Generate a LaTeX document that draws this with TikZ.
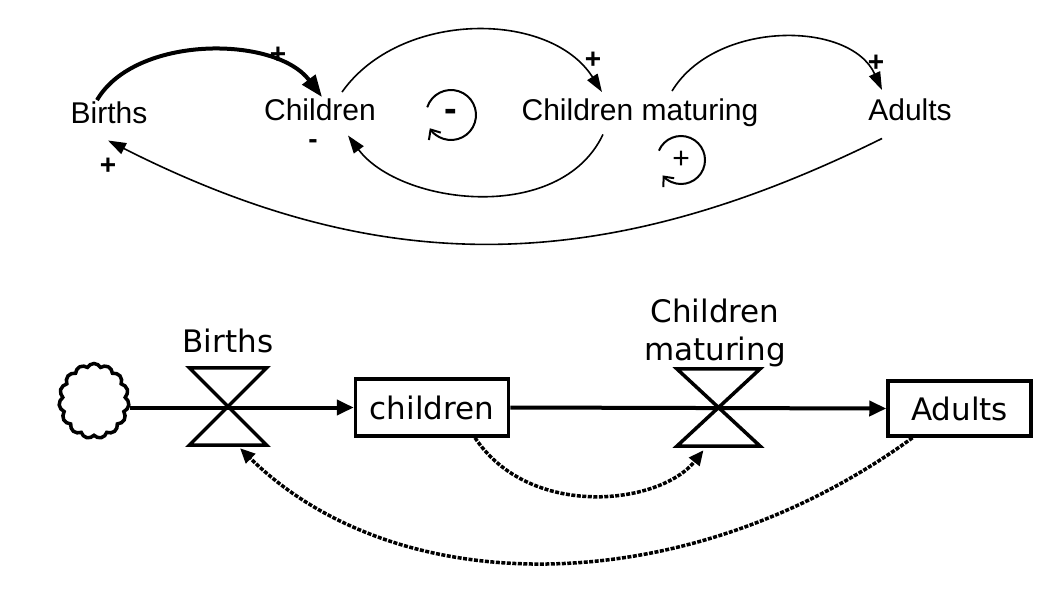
\documentclass[tikz,border=0pt]{standalone}
\usepackage{fontspec}
\setmainfont{Liberation Sans}
\newfontfamily\dejavu{DejaVu Sans}
\usetikzlibrary{arrows.meta,shapes.symbols}
\begin{document}
\begin{tikzpicture}[x=1pt,y=-1pt,
  cld/.style={font=\fontsize{30}{36}\selectfont, inner sep=1pt, anchor=base},
  sgn/.style={font=\bfseries\fontsize{28}{32}\selectfont, inner sep=0pt},
  link/.style={line width=1.6pt, -{Triangle[length=18pt,width=12pt]}},
  loopar/.style={line width=2pt, -{Straight Barb[length=8pt,width=14pt]}},
  stock/.style={draw, line width=3.5pt, font=\dejavu\fontsize{31}{38}\selectfont, inner sep=0pt},
  valve/.style={inner sep=0pt},
  valvedraw/.style={line width=3.5pt, line join=miter},
  slabel/.style={font=\dejavu\fontsize{31}{38}\selectfont, inner sep=0pt},
  flow/.style={line width=4pt, -{Triangle[length=17pt,width=15pt]}},
  info/.style={line width=3.5pt, dash pattern=on 4pt off 1.5pt, -{Triangle[length=15pt,width=13pt]}}
]
\fill[white] (0,0) rectangle (1056,597);
\useasboundingbox (0,0) rectangle (1056,597);

% ---- causal loop diagram ----
\node[cld] (tb) at (109,123) {Births};
\node[cld] (tc) at (320,120) {Children};
\node[cld] (tm) at (640,120) {Children maturing};
\node[cld] (ta) at (910,120) {Adults};

\draw[link, line width=4pt, -{Triangle[length=22pt,width=16pt]}] ([xshift=-12]tb.north) .. controls (135,35) and (275,35) .. ([xshift=2]tc.north);
\draw[link] ([shift={(22,-5)}]tc.north) .. controls (400,10) and (550,10) .. ([shift={(-38,-5)}]tm.north);
\draw[link] ([shift={(32,-6)}]tm.north) .. controls (715,20) and (850,20) .. ([shift={(-28,-7)}]ta.north);
\draw[link] ([shift={(-37,7)}]tm.south) .. controls (560,225) and (400,205) .. ([shift={(28,14)}]tc.south);
\draw[link] ([shift={(-28,17)}]ta.south) .. controls (600,278) and (380,278) .. ([shift={(-1,16)}]tb.south);

\node[sgn] (s1) at (278,55) {+};
\node[sgn] (s2) at (593,60) {+};
\node[sgn] (s3) at (876,63) {+};
\node[sgn] (s4) at (313,144) {-};
\node[sgn] (s5) at (108,166) {+};

\node[font=\bfseries\fontsize{38}{40}\selectfont, inner sep=0pt] (l1) at (451,115) {-};
\draw[loopar] ([shift={(-162:25)}]l1.center) arc[start angle=-162, end angle=148, radius=25];
\node[font=\fontsize{30}{32}\selectfont, inner sep=0pt] (l2) at (681,160) {+};
\draw[loopar] ([shift={(-157:24)}]l2.center) arc[start angle=-157, end angle=140, radius=24];

% ---- stock and flow diagram ----
\node[draw, cloud, cloud puffs=15, cloud puff arc=125, aspect=1, minimum width=70pt, minimum height=75pt, line width=3.5pt] (src) at (94,401) {};
\node[valve, minimum width=77pt, minimum height=77pt] (v1) at (228,406.5) {};
\draw[valvedraw] (v1.north west) -- (v1.north east) -- (v1.south west) -- (v1.south east) -- cycle;
\node[stock, minimum width=153pt, minimum height=57pt] (ch) at (432,407.5) {children};
\node[valve, minimum width=83pt, minimum height=77pt] (v2) at (718.5,407.5) {};
\draw[valvedraw] (v2.north west) -- (v2.north east) -- (v2.south west) -- (v2.south east) -- cycle;
\node[stock, minimum width=143pt, minimum height=55pt] (ad) at (959.5,408.5) {Adults};

\node[slabel, anchor=base] (bl) at (228,352) {Births};
\node[slabel, align=center] (ml) at (715,333) {Children\\maturing};

\draw[flow] (ch.west -| src.east) -- (ch.west);
\draw[flow] (ch.east) -- (ad.west);

\draw[info] ([xshift=43]ch.south) .. controls (530,520) and (660,505) .. ([shift={(-15,4)}]v2.south);
\draw[info] ([xshift=-47]ad.south) .. controls (690,600) and (400,605) .. ([shift={(12,3)}]v1.south);
\end{tikzpicture}
\end{document}
